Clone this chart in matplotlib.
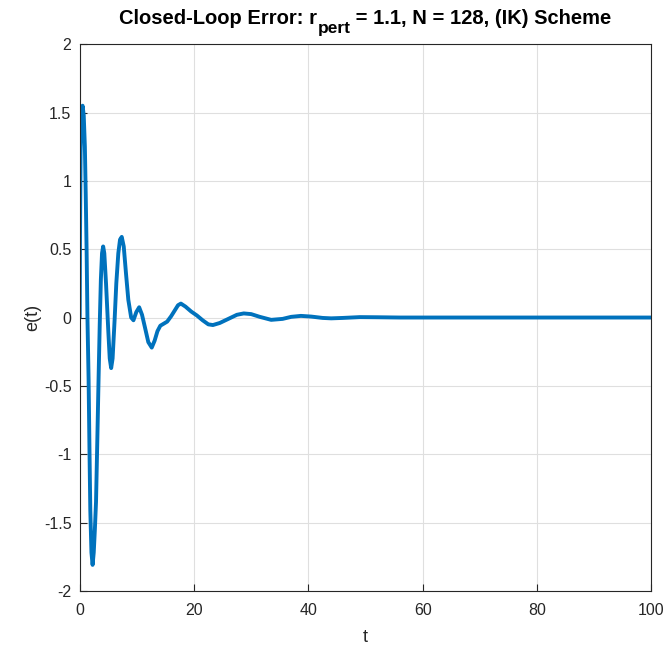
import matplotlib
matplotlib.use("Agg")
import matplotlib.pyplot as plt

plt.rcParams['font.family'] = ['Liberation Sans', 'DejaVu Sans']

# closed-loop error samples e(t)
t = [0, 0.05, 0.15, 0.3, 0.5, 0.7, 0.9, 1.05, 1.2, 1.35, 1.55, 1.7, 1.85,
     2.05, 2.25, 2.45, 2.65, 2.85, 3.1, 3.3, 3.5, 3.7, 3.9, 4.1, 4.3, 4.6,
     5.0, 5.25, 5.5, 5.75, 6.1, 6.4, 6.75, 7.05, 7.35, 7.7, 8.1, 8.5, 9.0,
     9.4, 9.9, 10.4, 10.9, 11.4, 12.0, 12.6, 13.1, 13.6, 14.1, 14.7, 15.3,
     16.0, 16.6, 17.2, 17.7, 18.5, 19.5, 20.5, 21.5, 22.5, 23.3, 24.5,
     26.0, 27.5, 28.7, 30.0, 31.5, 33.5, 35.5, 37.0, 38.7, 40.5, 42.5,
     44.0, 46.0, 49.0, 52.0, 56.0, 100.0]
e = [0, 0.6, 1.2, 1.5, 1.55, 1.48, 1.25, 0.9, 0.5, 0.0, -0.45, -0.95, -1.41,
     -1.72, -1.81, -1.72, -1.55, -1.35, -0.85, -0.44, -0.05, 0.28, 0.47,
     0.52, 0.47, 0.25, -0.1, -0.3, -0.37, -0.3, -0.02, 0.25, 0.47, 0.57,
     0.59, 0.52, 0.32, 0.13, 0.0, -0.02, 0.04, 0.075, 0.02, -0.07, -0.18,
     -0.22, -0.17, -0.1, -0.06, -0.045, -0.03, 0.01, 0.05, 0.09, 0.102,
     0.08, 0.044, 0.015, -0.02, -0.05, -0.055, -0.04, -0.01, 0.02, 0.03,
     0.025, 0.005, -0.017, -0.01, 0.005, 0.012, 0.007, -0.003, -0.006,
     -0.003, 0.003, 0.002, 0.0, 0.0]

W, H = 670, 650
fig = plt.figure(figsize=(W / 100, H / 100), dpi=100)
ax = fig.add_axes([0.119, 0.091, 0.853, 0.841])

ax.plot(t, e, color='#0072BD', lw=2.8, solid_joinstyle='round',
        solid_capstyle='round')

ax.set_xlim(0, 100)
ax.set_ylim(-2, 2)
ax.set_xticks([0, 20, 40, 60, 80, 100])
ax.set_yticks([-2, -1.5, -1, -0.5, 0, 0.5, 1, 1.5, 2])
ax.set_yticklabels(['-2', '-1.5', '-1', '-0.5', '0', '0.5', '1', '1.5', '2'])
ax.grid(True, color='#dfdfdf', lw=0.8)
ax.set_axisbelow(True)
ax.tick_params(direction='in', length=5, width=0.8, labelsize=11.5,
               colors='#262626', top=False, right=False)
ax.tick_params(axis='x', pad=9)
ax.tick_params(axis='y', pad=6)
for s in ax.spines.values():
    s.set_color('#262626')
    s.set_linewidth(0.8)

ax.set_xlabel('t', fontsize=13, color='#262626', labelpad=8)
ax.set_ylabel('e(t)', fontsize=13, color='#262626', labelpad=2)

# title with a subscript, laid out piece by piece
parts = [('Closed-Loop Error: r', 14.5, 0.0),
         ('pert', 12.5, -9.0),
         (' = 1.1, N = 128, (IK) Scheme', 14.5, 0.0)]
base_y = H - 24
texts = [fig.text(0, 0, s, fontsize=fs, fontweight='bold', va='baseline',
                  transform=None) for s, fs, dy in parts]
renderer = fig.canvas.get_renderer()
widths = [tx.get_window_extent(renderer).width for tx in texts]
bbox = ax.get_window_extent(renderer)
x = (bbox.x0 + bbox.x1) / 2 - sum(widths) / 2
for tx, w, (s, fs, dy) in zip(texts, widths, parts):
    tx.set_position((x, base_y + dy))
    x += w

fig.savefig('out.png', dpi=100)
